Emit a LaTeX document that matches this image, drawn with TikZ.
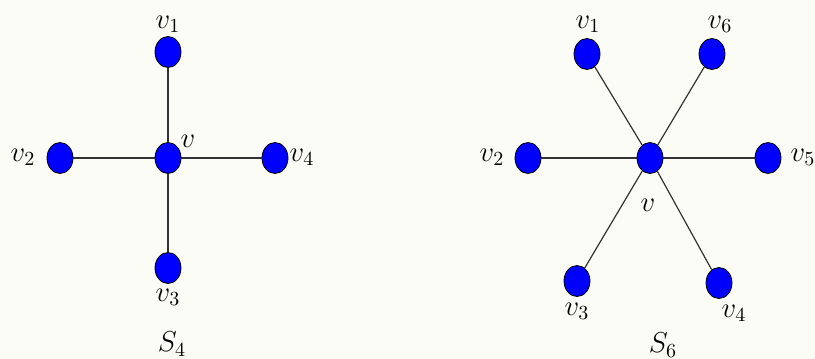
\documentclass[tikz,border=0pt]{standalone}
\usetikzlibrary{positioning, shapes.geometric}
\definecolor{vertex_color}{RGB}{0, 0, 255}
\definecolor{paper_color}{RGB}{252, 252, 247}

\begin{document}
\begin{tikzpicture}[x=0.5pt, y=-0.5pt, font=\Large,
    vertex/.style={ellipse, draw=black, fill=vertex_color, minimum width=13pt, minimum height=15.5pt, inner sep=0pt},
    edge/.style={gray!40!black, line width=0.6pt}]

      % 0. Fondo y margenes
      \fill[paper_color] (0,0) rectangle (815,359);
      \useasboundingbox (0,0) rectangle (815,359);

      % 1. Estrella S_4
      \node[vertex] (a) at (168,158) {};
      \node[vertex] (a1) at (168,52) {};
      \node[vertex] (a2) at (60,158) {};
      \node[vertex] (a3) at (168,268) {};
      \node[vertex] (a4) at (275,158) {};

      \draw[edge] (a) -- (a1);
      \draw[edge] (a) -- (a2);
      \draw[edge] (a) -- (a3);
      \draw[edge] (a) -- (a4);

      \node (la) at (188,141) {$v$};
      \node (la1) at (168,24) {$v_1$};
      \node (la2) at (23,157) {$v_2$};
      \node (la3) at (168,297) {$v_3$};
      \node (la4) at (302,157) {$v_4$};
      \node (sa) at (172,344) {$S_4$};

      % 2. Estrella S_6
      \node[vertex] (b) at (650,158) {};
      \node[vertex] (b1) at (587,54) {};
      \node[vertex] (b2) at (528,158) {};
      \node[vertex] (b3) at (577,281) {};
      \node[vertex] (b4) at (719,283) {};
      \node[vertex] (b5) at (768,158) {};
      \node[vertex] (b6) at (712,54) {};

      \draw[edge] (b) -- (b1);
      \draw[edge] (b) -- (b2);
      \draw[edge] (b) -- (b3);
      \draw[edge] (b) -- (b4);
      \draw[edge] (b) -- (b5);
      \draw[edge] (b) -- (b6);

      \node (lb) at (648,205) {$v$};
      \node (lb1) at (588,24) {$v_1$};
      \node (lb2) at (492,157) {$v_2$};
      \node (lb3) at (577,311) {$v_3$};
      \node (lb4) at (734,313) {$v_4$};
      \node (lb5) at (803,157) {$v_5$};
      \node (lb6) at (720,24) {$v_6$};
      \node (sb) at (663,345) {$S_6$};

\end{tikzpicture}
\end{document}
